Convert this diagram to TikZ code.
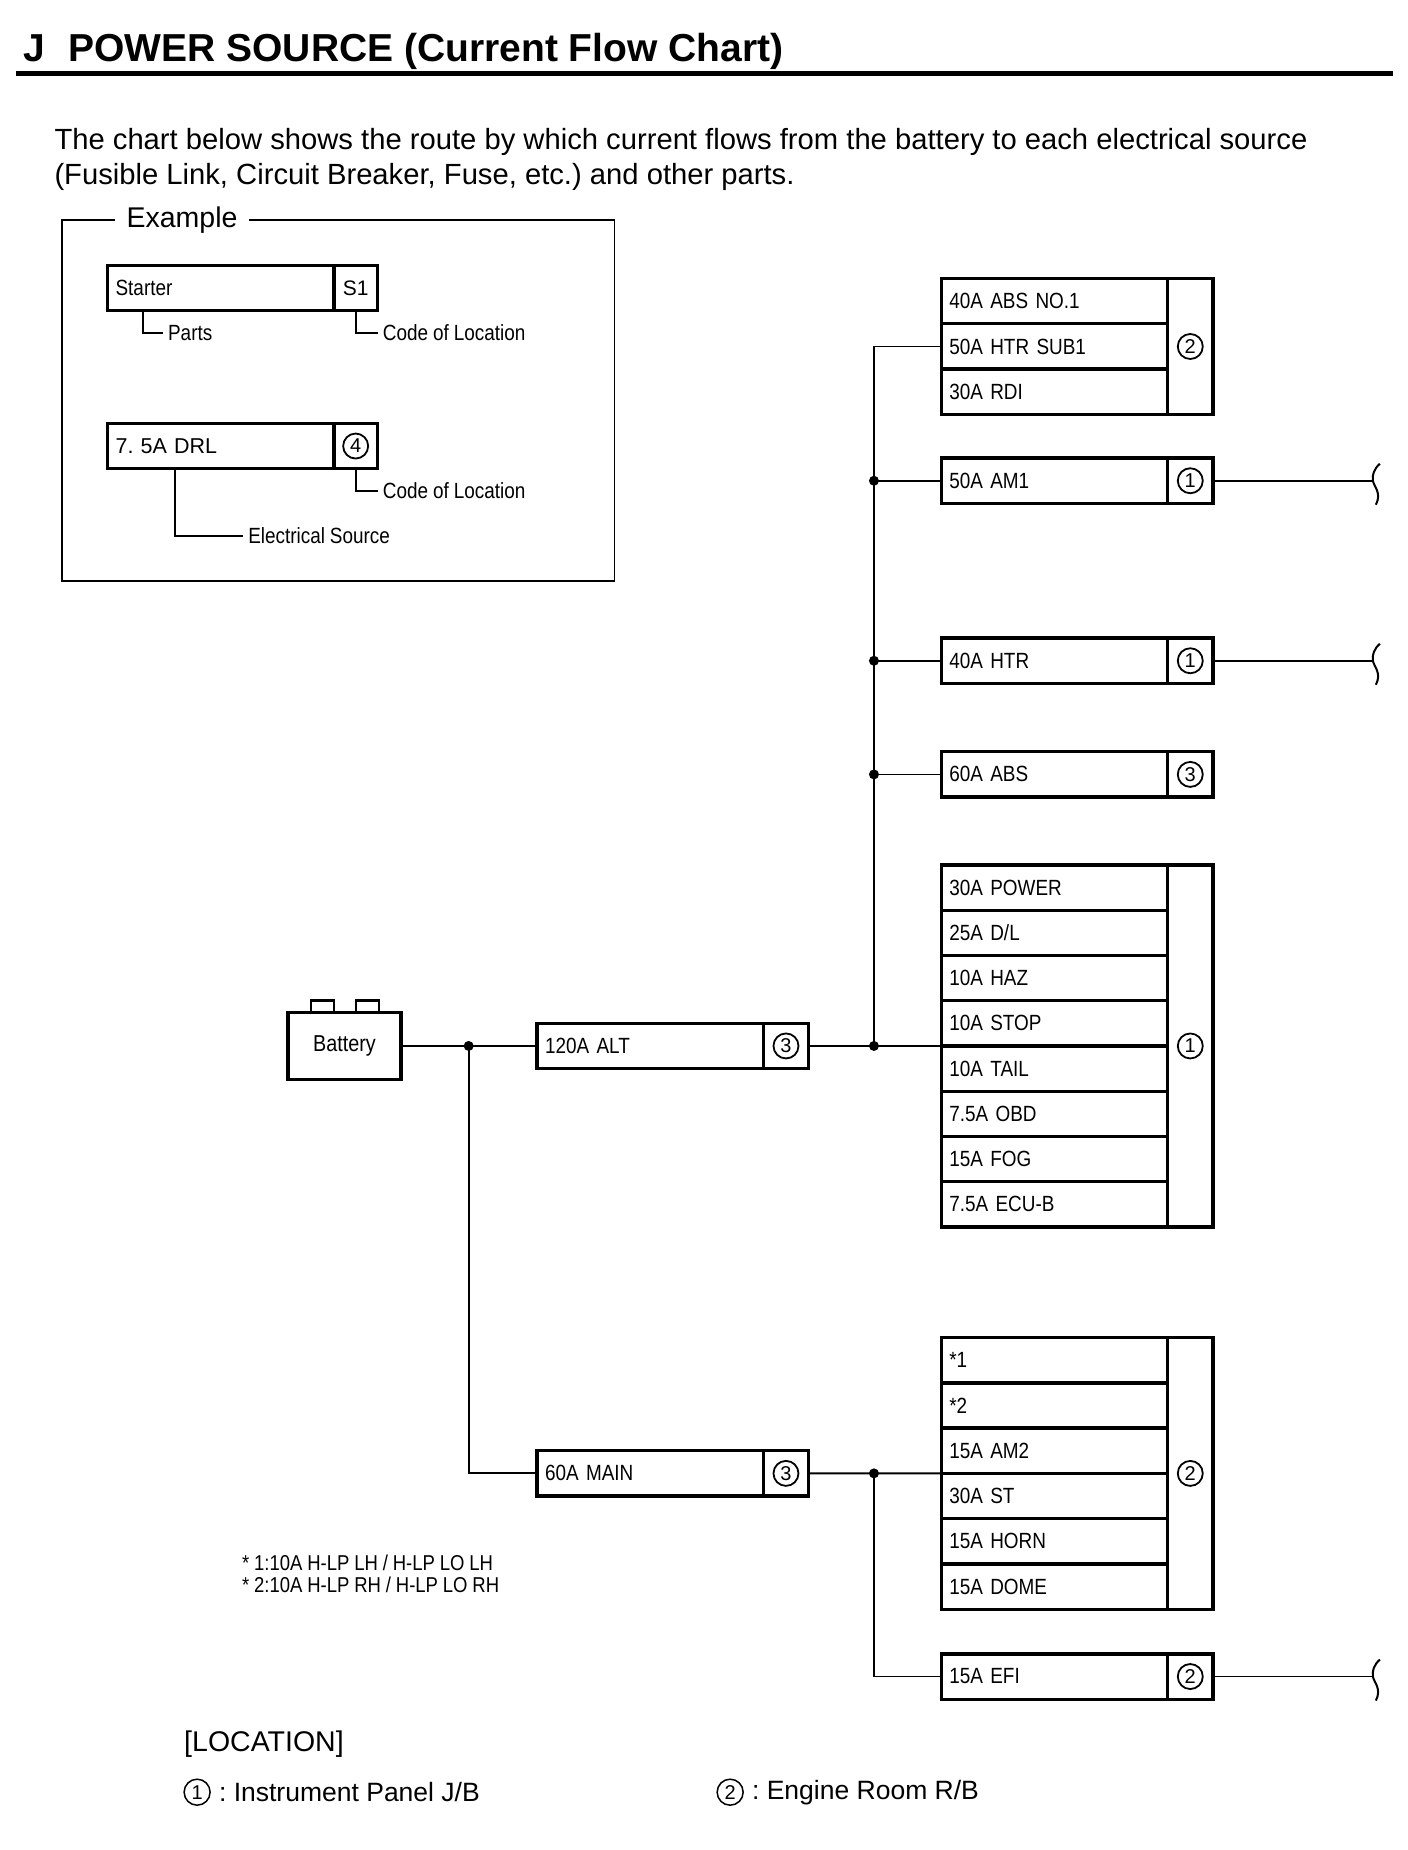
\documentclass[tikz,border=0pt]{standalone}
\usepackage{fontspec}
\setmainfont{Liberation Sans}
\newfontfamily\condfont[FakeStretch=0.86,WordSpace=0.95]{Liberation Sans}
\usetikzlibrary{positioning}
\frenchspacing

\newcommand\fsz[2]{\fontsize{#1}{#2}\selectfont}
% broken wire end
\newcommand\wirecut[1]{\draw[line width=2pt] ([xshift=7pt,yshift=17pt]#1) .. controls ([xshift=1pt,yshift=12pt]#1) and ([xshift=-1pt,yshift=5pt]#1) .. (#1) .. controls ([xshift=1pt,yshift=-6pt]#1) and ([xshift=9pt,yshift=-12pt]#1) .. ([xshift=3pt,yshift=-24pt]#1);}

\tikzset{
  wire/.style={line width=1.8pt},
  cell/.style={draw, line width=3.3pt, outer sep=0pt, anchor=north west,
    minimum height=45.26pt, text width=210.3pt, inner xsep=8pt, inner ysep=0pt,
    align=left, font=\condfont\fsz{22}{26}},
  code/.style={draw, line width=3.3pt, outer sep=0pt, anchor=north west,
    minimum width=45.26pt, minimum height=45.26pt, inner sep=0pt},
  loc/.style={circle, draw, line width=1.8pt, minimum size=25pt, inner sep=0pt,
    font=\fsz{20}{22}},
  note/.style={anchor=west, inner xsep=5pt, font=\condfont\fsz{22}{26}},
}

\begin{document}
\begin{tikzpicture}[x=1.0057pt,y=-1.0057pt]
    \useasboundingbox (0,0) rectangle (1400,1839.5);

    % heading
    \node[anchor=base west, inner sep=0pt, font=\bfseries\fsz{39}{46}] (title) at (23,61) {J\hspace{0.6em}POWER SOURCE (Current Flow Chart)};
    \draw[line width=5pt] (16,73.5) -- (1385,73.5);
    \node[anchor=base west, inner sep=0pt, font=\fsz{29.2}{34}] (intro1) at (54,149) {The chart below shows the route by which current flows from the battery to each electrical source};
    \node[anchor=base west, inner sep=0pt, font=\fsz{29.2}{34}] (intro2) at (54,183) {(Fusible Link, Circuit Breaker, Fuse, etc.) and other parts.};

    % example frame
    \draw[line width=1.8pt] (62,219) rectangle (611,578);
    \node[fill=white, inner xsep=12pt, font=\fsz{28.5}{34}] (exlbl) at (181,219) {Example};

    \node[cell] (starter) at (107,264) {Starter};
    \node[code, minimum width=43.5pt] (startc) at (starter.north east) {};
    \node[font=\fsz{21}{24}] (startn) at (startc) {S1};
    \node[note] (parts) at (162,331) {Parts};
    \node[note] (codea) at (375.5,331) {Code of Location};
    \draw[wire] ([xshift=35pt]starter.south west) |- (parts.west);
    \draw[wire] (startc.south) |- (codea.west);

    \node[cell, font=\fsz{21.5}{24}] (drl) at (107,421) {7. 5A DRL};
    \node[code, minimum width=43.5pt] (drlc) at (drl.north east) {};
    \node[loc] (drln) at (drlc) {4};
    \node[note] (codeb) at (375.5,488) {Code of Location};
    \node[note] (elsrc) at (241.7,532.7) {Electrical Source};
    \draw[wire] (drlc.south) |- (codeb.west);
    \draw[wire] ([xshift=67pt]drl.south west) |- (elsrc.west);

    % battery
    \node[draw, line width=3.3pt, outer sep=0pt, minimum width=113pt, minimum height=67pt, font=\condfont\fsz{23}{26}] (bat) at (342.5,1040) {Battery};
    \draw[line width=2.5pt] ([xshift=23pt]bat.north west) -- ++(0,-12) -- ++(23,0) -- ++(0,12);
    \draw[line width=2.5pt] ([xshift=68pt]bat.north west) -- ++(0,-12) -- ++(23,0) -- ++(0,12);

    % fusible links
    \node[cell] (alt) at (534,1017.5) {120A ALT};
    \node[code] (altc) at (alt.north east) {};
    \node[loc] (altn) at (altc) {3};
    \node[cell] (main) at (534,1442.5) {60A MAIN};
    \node[code] (mainc) at (main.north east) {};
    \node[loc] (mainn) at (mainc) {3};

    % engine room group
    \foreach \lbl [count=\i] in {40A ABS NO.1, 50A HTR SUB1, 30A RDI}
        \node[cell] (a\i) at (936,{277+45*(\i-1)}) {\lbl};
    \node[code, minimum height=135.8pt] (ac) at (a1.north east) {};
    \node[loc] (an) at (ac) {2};

    \node[cell] (am1) at (936,455.5) {50A AM1};
    \node[code] (am1c) at (am1.north east) {};
    \node[loc] (am1n) at (am1c) {1};

    \node[cell] (htr) at (936,634.5) {40A HTR};
    \node[code] (htrc) at (htr.north east) {};
    \node[loc] (htrn) at (htrc) {1};

    \node[cell] (abs) at (936,747.5) {60A ABS};
    \node[code] (absc) at (abs.north east) {};
    \node[loc] (absn) at (absc) {3};

    % instrument panel group
    \foreach \lbl [count=\i] in {30A POWER, 25A D/L, 10A HAZ, 10A STOP, 10A TAIL, 7.5A OBD, 15A FOG, 7.5A ECU-B}
        \node[cell] (b\i) at (936,{860+45*(\i-1)}) {\lbl};
    \node[code, minimum height=362.1pt] (bc) at (b1.north east) {};
    \node[loc] (bn) at (bc) {1};

    % second engine room group
    \foreach \lbl [count=\i] in {*1, *2, 15A AM2, 30A ST, 15A HORN, 15A DOME}
        \node[cell] (c\i) at (936,{1330+45*(\i-1)}) {\lbl};
    \node[code, minimum height=271.6pt] (cc) at (c1.north east) {};
    \node[loc] (cn) at (cc) {2};

    \node[cell] (efi) at (936,1644.5) {15A EFI};
    \node[code] (efic) at (efi.north east) {};
    \node[loc] (efin) at (efic) {2};

    % wiring
    \coordinate (ja) at (466,1040);
    \coordinate (jb) at (869,1040);
    \coordinate (jc) at (869,1465);
    \draw[wire] (bat.east) -- (alt.west);
    \draw[wire] (ja) |- (main.west);
    \draw[wire] (altc.east) -- (b5.north west);
    \draw[wire] (jb) |- (a2.west);
    \draw[wire] (jb |- am1.west) -- (am1.west);
    \draw[wire] (jb |- htr.west) -- (htr.west);
    \draw[wire] (jb |- abs.west) -- (abs.west);
    \draw[wire] (mainc.east) -- (c4.north west);
    \draw[wire] (jc) |- (efi.west);
    \foreach \p in {ja, jb, jc}
        \fill (\p) circle (5pt);
    \foreach \p in {am1, htr, abs}
        \fill (jb |- \p.west) circle (5pt);

    % cut ends
    \coordinate (am1end) at ([xshift=160pt]am1c.east);
    \coordinate (htrend) at ([xshift=160pt]htrc.east);
    \coordinate (efiend) at ([xshift=160pt]efic.east);
    \draw[wire] (am1c.east) -- (am1end);
    \draw[wire] (htrc.east) -- (htrend);
    \draw[wire] (efic.east) -- (efiend);
    \wirecut{am1end}
    \wirecut{htrend}
    \wirecut{efiend}

    % notes
    \node[anchor=base west, inner sep=0pt, font=\condfont\fsz{21.5}{21}] (note1) at (240.5,1562) {* 1:10A H-LP LH / H-LP LO LH};
    \node[anchor=base west, inner sep=0pt, font=\condfont\fsz{21.5}{21}] (note2) at (240.5,1583) {* 2:10A H-LP RH / H-LP LO RH};

    % location legend
    \node[anchor=west, inner sep=0pt, font=\fsz{28.5}{34}] (lochead) at (183,1734) {[LOCATION]};
    \node[loc, minimum size=26pt, line width=1.5pt] (lc1) at (196,1782) {1};
    \node[anchor=west, inner xsep=8pt, font=\fsz{26.5}{32}] (lt1) at (lc1.east) {: Instrument Panel J/B};
    \node[loc, minimum size=26pt, line width=1.5pt] (lc2) at (726,1782) {2};
    \node[anchor=west, inner xsep=8pt, font=\fsz{26.5}{32}] (lt2) at (lc2.east) {: Engine Room R/B};
\end{tikzpicture}
\end{document}
